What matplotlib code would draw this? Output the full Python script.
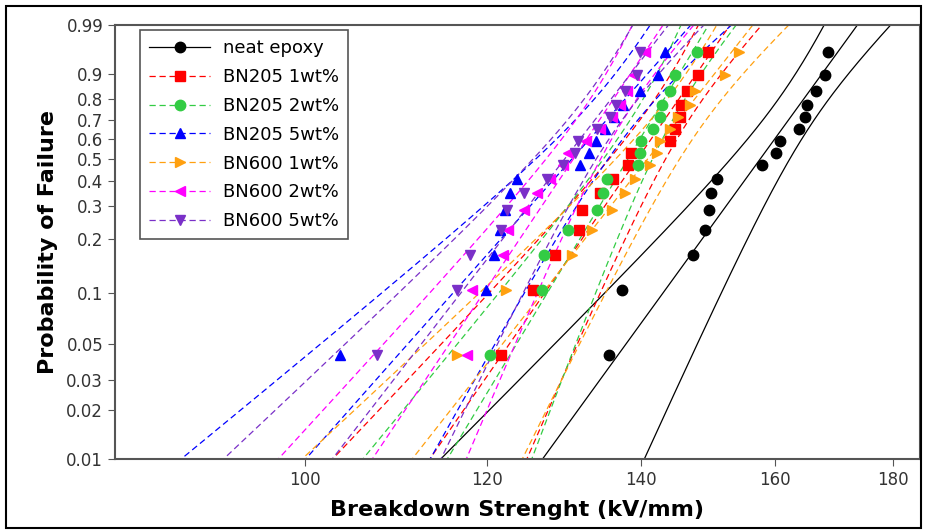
import numpy as np
import matplotlib
matplotlib.use("Agg")
import matplotlib.pyplot as plt
from matplotlib.patches import Rectangle
from matplotlib.ticker import FixedLocator, NullLocator, FixedFormatter

# ---------------------------------------------------------------------------
# Data: breakdown strength (kV/mm), 16 samples per material, sorted
# ---------------------------------------------------------------------------
neat_epoxy = [135.5, 137.3, 147.4, 149.2, 149.8, 150.1, 151.0, 158.0,
              160.2, 160.8, 163.9, 164.9, 165.3, 166.8, 168.2, 168.7]
bn205_1 = [121.7, 125.6, 128.4, 131.5, 131.9, 134.3, 136.1, 138.1,
           138.5, 144.1, 144.8, 145.5, 145.7, 146.5, 148.1, 149.6]
bn205_2 = [120.3, 126.8, 127.0, 130.1, 133.9, 134.8, 135.3, 139.5,
           139.8, 140.0, 141.6, 142.6, 142.9, 144.1, 144.8, 148.0]
bn205_5 = [103.6, 119.8, 120.8, 121.5, 122.2, 122.8, 123.6, 131.7,
           132.8, 133.8, 135.0, 136.2, 137.4, 139.8, 142.3, 143.3]
bn600_1 = [116.4, 122.3, 130.6, 133.2, 136.0, 137.7, 139.1, 141.2,
           142.2, 142.6, 144.1, 145.2, 147.0, 147.7, 152.2, 154.3]
bn600_2 = [117.6, 118.2, 121.9, 122.5, 124.5, 126.1, 127.8, 129.4,
           130.1, 132.5, 134.3, 136.0, 137.0, 138.0, 139.0, 140.5]
bn600_5 = [107.5, 116.4, 118.0, 121.7, 122.4, 124.5, 127.4, 129.5,
           131.0, 131.4, 133.9, 135.7, 136.5, 137.8, 139.4, 139.8]

labels = ["neat epoxy", "BN205 1wt%", "BN205 2wt%", "BN205 5wt%",
          "BN600 1wt%", "BN600 2wt%", "BN600 5wt%"]
series = [neat_epoxy, bn205_1, bn205_2, bn205_5, bn600_1, bn600_2, bn600_5]
colors = ["black", "#ff0000", "#33cc44", "#0000ff", "#ffa010", "#ff00ff", "#7a30c8"]
markers = ["o", "s", "o", "^", ">", "<", "v"]

y_ticks = [0.01, 0.02, 0.03, 0.05, 0.1, 0.2, 0.3, 0.4, 0.5, 0.6, 0.7, 0.8, 0.9, 0.99]
x_ticks = [100, 120, 140, 160, 180]


# Weibull probability axis
def wfwd(p):
    p = np.clip(np.asarray(p, dtype=float), 1e-9, 1 - 1e-9)
    return np.log(-np.log(1.0 - p))


def winv(w):
    return 1.0 - np.exp(-np.exp(np.asarray(w, dtype=float)))


def weibull_mle(x):
    """Two-parameter Weibull MLE -> (ln eta, 1/beta)"""
    lx = np.log(x)
    xs = x / x.max()

    def g(beta):
        xb = xs ** beta
        return np.sum(xb * lx) / np.sum(xb) - 1.0 / beta - lx.mean()

    lo, hi = 0.5, 200.0
    for _ in range(200):
        mid = 0.5 * (lo + hi)
        if g(mid) > 0:
            hi = mid
        else:
            lo = mid
    beta = 0.5 * (lo + hi)
    eta = x.max() * np.mean(xs ** beta) ** (1.0 / beta)
    return np.log(eta), 1.0 / beta


# ---------------------------------------------------------------------------
# Plot
# ---------------------------------------------------------------------------
fig = plt.figure(figsize=(9.25, 5.31), dpi=100)
ax = fig.add_axes([115 / 925, 72 / 531, 805 / 925, 434 / 531])
ax.set_xscale("log")
ax.set_yscale("function", functions=(wfwd, winv))

w_line = np.linspace(wfwd(0.0095), wfwd(0.995), 300)
p_line = winv(w_line)

for vals, lab, col, mk in zip(series, labels, colors, markers):
    x = np.asarray(vals, dtype=float)
    n = len(x)
    rank = np.arange(1, n + 1)
    p = (rank - 0.3) / (n + 0.4)  # Bernard median rank

    u, b = weibull_mle(x)
    ln_fit = u + b * w_line
    # Fisher-matrix 95% bounds on ln(x_p)
    var = b ** 2 / n * (1.1087 - 0.514 * w_line + 0.6079 * w_line ** 2)
    half = 1.96 * np.sqrt(var)

    ls = "-" if col == "black" else (0, (5, 3))
    for ln_x in (ln_fit, ln_fit - half, ln_fit + half):
        ax.plot(np.exp(ln_x), p_line, color=col, lw=0.9, ls=ls, zorder=2)

    ax.plot(x, p, ls="none", marker=mk, color=col, ms=7.5, mec=col, zorder=4)
    # legend proxy
    ax.plot([], [], color=col, lw=0.9, ls=ls, marker=mk, ms=7.5, label=lab)

ax.set_xlim(82.7, 185)
ax.set_ylim(0.01, 0.99)

ax.xaxis.set_major_locator(FixedLocator(x_ticks))
ax.xaxis.set_major_formatter(FixedFormatter([str(t) for t in x_ticks]))
ax.xaxis.set_minor_locator(NullLocator())
ax.yaxis.set_major_locator(FixedLocator(y_ticks))
ax.yaxis.set_major_formatter(FixedFormatter([str(t) for t in y_ticks]))
ax.yaxis.set_minor_locator(NullLocator())
ax.tick_params(direction="out", length=5, labelsize=12, color="#555555",
               labelcolor="#333333")
for sp in ax.spines.values():
    sp.set_color("#555555")
    sp.set_linewidth(1.5)

ax.set_xlabel("Breakdown Strenght (kV/mm)", fontsize=16, fontweight="bold", labelpad=8)
ax.set_ylabel("Probability of Failure", fontsize=16, fontweight="bold", labelpad=6)

leg = ax.legend(loc="upper left", bbox_to_anchor=(0.031, 0.988), borderaxespad=0,
                fontsize=13, numpoints=1, handlelength=3.4, handletextpad=0.7,
                labelspacing=0.6, fancybox=False, edgecolor="#555555",
                framealpha=1, borderpad=0.5)
leg.get_frame().set_linewidth(1.2)

# outer frame round the picture
fig.patches.append(Rectangle((6 / 925, 3 / 531), 915 / 925, 522 / 531,
                             transform=fig.transFigure, fill=False,
                             edgecolor="black", lw=1.5))

fig.savefig("out.png", dpi=100)
